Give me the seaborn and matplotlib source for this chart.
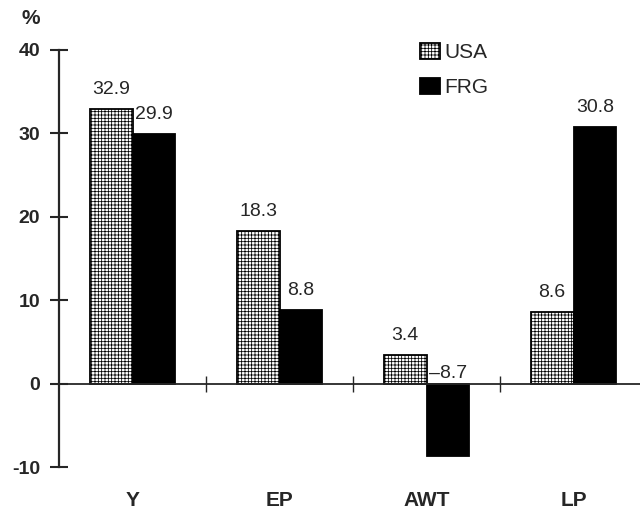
import matplotlib
matplotlib.use("Agg")
import matplotlib.pyplot as plt
import seaborn as sns
import pandas as pd

categories = ["Y", "EP", "AWT", "LP"]
series_names = ["USA", "FRG"]
usa_values = [32.9, 18.3, 3.4, 8.6]
frg_values = [29.9, 8.8, -8.7, 30.8]
y_ticks = [-10, 0, 10, 20, 30, 40]

sns.set_style("ticks")
plt.rcParams["font.family"] = ["Liberation Sans", "DejaVu Sans"]
plt.rcParams["hatch.linewidth"] = 0.55

df = pd.DataFrame({
    "category": categories * 2,
    "country": [series_names[0]] * 4 + [series_names[1]] * 4,
    "value": usa_values + frg_values,
})

fig = plt.figure(figsize=(6.4, 5.13), dpi=100)
ax = fig.add_axes([59 / 640, 1 - 467 / 513, 588 / 640, 417 / 513])

sns.barplot(data=df, x="category", y="value", hue="country",
            hue_order=series_names, order=categories,
            palette={"USA": "white", "FRG": "black"},
            width=0.58, edgecolor="black", linewidth=1.3,
            errorbar=None, legend=False, ax=ax)

for p in ax.containers[0]:
    p.set_hatch("+++++")
    p.set_edgecolor("black")

ax.set_xlim(-0.5, 3.5)
ax.set_ylim(-10, 40)
ax.set_yticks(y_ticks)
ax.set_yticklabels([str(t) for t in y_ticks], fontsize=14, fontweight="bold")
ax.tick_params(axis="y", direction="inout", length=13, width=1.5, pad=7)

# zero line as bottom spine with category boundary ticks
ax.spines["bottom"].set_position(("data", 0))
ax.spines["bottom"].set_linewidth(1.3)
ax.set_xticks([0.5, 1.5, 2.5])
ax.set_xticklabels([])
ax.tick_params(axis="x", direction="inout", length=12, width=1.0)
ax.spines["left"].set_linewidth(1.6)
ax.spines["top"].set_visible(False)
ax.spines["right"].set_visible(False)
ax.set_xlabel("")
ax.set_ylabel("")

sec = ax.secondary_xaxis("bottom")
sec.spines["bottom"].set_visible(False)
sec.set_xticks(range(len(categories)))
sec.set_xticklabels(categories, fontsize=15, fontweight="bold")
sec.tick_params(axis="x", length=0, pad=17.5)

# value labels
offsets = [-0.145, 0.145]
for vals, off in zip([usa_values, frg_values], offsets):
    for i, v in enumerate(vals):
        y = v + 1.8 if v >= 0 else 0.7
        ax.text(i + off, y, f"{v:.1f}".replace("-", "\u2013"), ha="center",
                va="baseline", fontsize=14)

ax.legend(handles=ax.containers, labels=series_names, loc="upper left",
          bbox_to_anchor=(420 / 640, 1 - 43 / 513), bbox_transform=fig.transFigure,
          frameon=False, fontsize=15, borderpad=0, borderaxespad=0,
          handlelength=0.95, handleheight=0.8, handletextpad=0.2, labelspacing=0.75)

fig.text(22 / 640, 1 - 19 / 513, "%", fontsize=15, fontweight="bold", va="center")

fig.savefig("out.png", dpi=100)
